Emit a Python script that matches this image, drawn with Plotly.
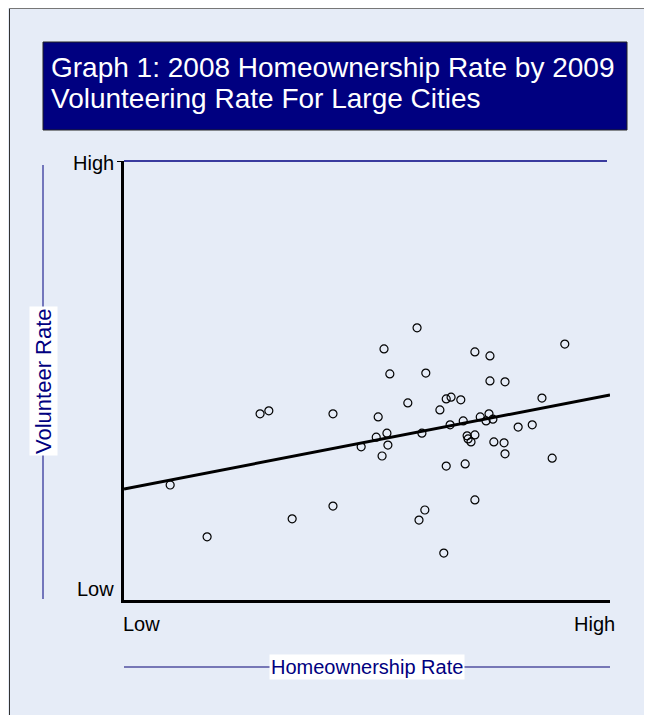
import plotly.graph_objects as go

# homeownership rate (x) and volunteering rate (y), scaled 0 = Low, 100 = High
homeownership = [9.5, 17.1, 28.0, 29.8, 43.0, 34.6, 43.0, 60.3, 53.5, 54.7,
                 62.1, 58.4, 52.3, 66.3, 67.3, 69.3, 65.0, 51.9, 54.1, 61.3,
                 67.1, 69.8, 90.7, 72.2, 75.3, 75.3, 78.4, 86.0, 73.3, 75.1,
                 74.5, 75.9, 81.1, 84.0, 70.6, 70.8, 71.4, 72.2, 76.1, 78.2,
                 78.4, 88.1, 66.3, 70.2, 48.8, 54.3, 53.1, 72.2, 61.9, 60.7,
                 65.8]
volunteering = [26.2, 14.4, 42.4, 43.1, 42.4, 18.5, 21.4, 62.0, 57.2, 51.5,
                51.7, 44.9, 41.7, 45.8, 46.2, 45.6, 43.3, 37.1, 38.0, 38.0,
                39.9, 40.8, 58.3, 56.5, 55.6, 49.9, 49.7, 46.0, 41.7, 42.4,
                40.8, 41.2, 39.4, 39.9, 37.4, 36.7, 36.0, 37.6, 36.0, 35.8,
                33.3, 32.3, 30.5, 31.0, 34.9, 35.3, 32.8, 22.8, 20.5, 18.2,
                10.7]

# fitted trend line end points
fit_x = [0, 100]
fit_y = [25.3, 46.7]

axis_min, axis_max = 0, 100
tick_text = ["Low", "High"]

title_lines = ["Graph 1: 2008 Homeownership Rate by 2009",
               "Volunteering Rate For Large Cities"]
x_title = "Homeownership Rate"
y_title = "Volunteer Rate"

# the page body adds an 8px offset, so the figure is a bit smaller
W, H = 644, 707
L, T = 116, 153
PW, PH = 486, 439
R, B = W - L - PW, H - T - PH

BG = "#e6ecf7"
NAVY = "#000080"
FONT = "Liberation Sans, Arial, sans-serif"


# window pixel -> paper coordinates
def px(x):
    return (x - 124) / PW


def py(y):
    return (600 - y) / PH


fig = go.Figure()

fig.add_trace(go.Scatter(
    x=fit_x, y=fit_y, mode="lines",
    line=dict(color="black", width=3),
    hoverinfo="skip", showlegend=False,
))

fig.add_trace(go.Scatter(
    x=homeownership, y=volunteering, mode="markers",
    marker=dict(symbol="circle-open", size=8, color="black",
                line=dict(color="black", width=1.2)),
    showlegend=False,
))

shapes = [
    # frame, left and top edges
    dict(type="line", xref="paper", yref="paper",
         x0=px(9.5), x1=px(9.5), y0=py(8.5), y1=py(720),
         line=dict(color="#333333", width=1)),
    dict(type="line", xref="paper", yref="paper",
         x0=px(9.5), x1=px(660), y0=py(8.5), y1=py(8.5),
         line=dict(color="#777777", width=1)),
    # title box
    dict(type="rect", xref="paper", yref="paper",
         x0=px(43), x1=px(627), y0=py(42), y1=py(130),
         fillcolor=NAVY, line=dict(color="#222222", width=1)),
    # top rule of the plot
    dict(type="line", xref="paper", yref="paper",
         x0=0, x1=px(607), y0=1, y1=1,
         line=dict(color=NAVY, width=1.5)),
    # y title rule
    dict(type="line", xref="paper", yref="paper",
         x0=px(43), x1=px(43), y0=py(165), y1=py(599),
         line=dict(color=NAVY, width=1)),
    # x title rule
    dict(type="line", xref="paper", yref="paper",
         x0=0, x1=1, y0=py(667), y1=py(667),
         line=dict(color="#5050a0", width=1.5)),
]

annotations = [
    dict(text=title_lines[0], xref="paper", yref="paper",
         x=px(49), y=py(67), xanchor="left", yanchor="middle",
         showarrow=False, font=dict(family=FONT, size=28, color="white")),
    dict(text=title_lines[1], xref="paper", yref="paper",
         x=px(49), y=py(98), xanchor="left", yanchor="middle",
         showarrow=False, font=dict(family=FONT, size=28, color="white")),
    # y tick labels
    dict(text=tick_text[1], xref="paper", yref="paper",
         x=px(116), y=py(163), xanchor="right", yanchor="middle",
         showarrow=False, font=dict(family=FONT, size=20, color="black")),
    dict(text=tick_text[0], xref="paper", yref="paper",
         x=px(116), y=py(589), xanchor="right", yanchor="middle",
         showarrow=False, font=dict(family=FONT, size=20, color="black")),
    # x tick labels
    dict(text=tick_text[0], xref="paper", yref="paper",
         x=px(121), y=py(624), xanchor="left", yanchor="middle",
         showarrow=False, font=dict(family=FONT, size=20, color="black")),
    dict(text=tick_text[1], xref="paper", yref="paper",
         x=px(617), y=py(624), xanchor="right", yanchor="middle",
         showarrow=False, font=dict(family=FONT, size=20, color="black")),
    # axis titles
    dict(text=x_title, xref="paper", yref="paper",
         x=px(367), y=py(667), xanchor="center", yanchor="middle",
         showarrow=False, bgcolor="white", borderpad=1,
         font=dict(family=FONT, size=20, color=NAVY)),
    dict(text=y_title, xref="paper", yref="paper",
         x=px(43), y=py(381), xanchor="center", yanchor="middle",
         textangle=-90, showarrow=False, bgcolor="white", borderpad=1,
         font=dict(family=FONT, size=22, color=NAVY)),
]

fig.update_layout(
    width=W, height=H,
    margin=dict(l=L, r=R, t=T, b=B),
    paper_bgcolor=BG,
    plot_bgcolor=BG,
    font=dict(family=FONT),
    shapes=shapes,
    annotations=annotations,
    xaxis=dict(range=[axis_min, axis_max], showgrid=False, zeroline=False,
               showline=True, linecolor="black", linewidth=3,
               showticklabels=False, ticks=""),
    yaxis=dict(range=[axis_min, axis_max], showgrid=False, zeroline=False,
               showline=True, linecolor="black", linewidth=3,
               showticklabels=False, tickvals=[axis_max], ticks="outside",
               ticklen=4, tickwidth=1, tickcolor="black"),
)

fig.write_html("out.html", config={"displayModeBar": False})
